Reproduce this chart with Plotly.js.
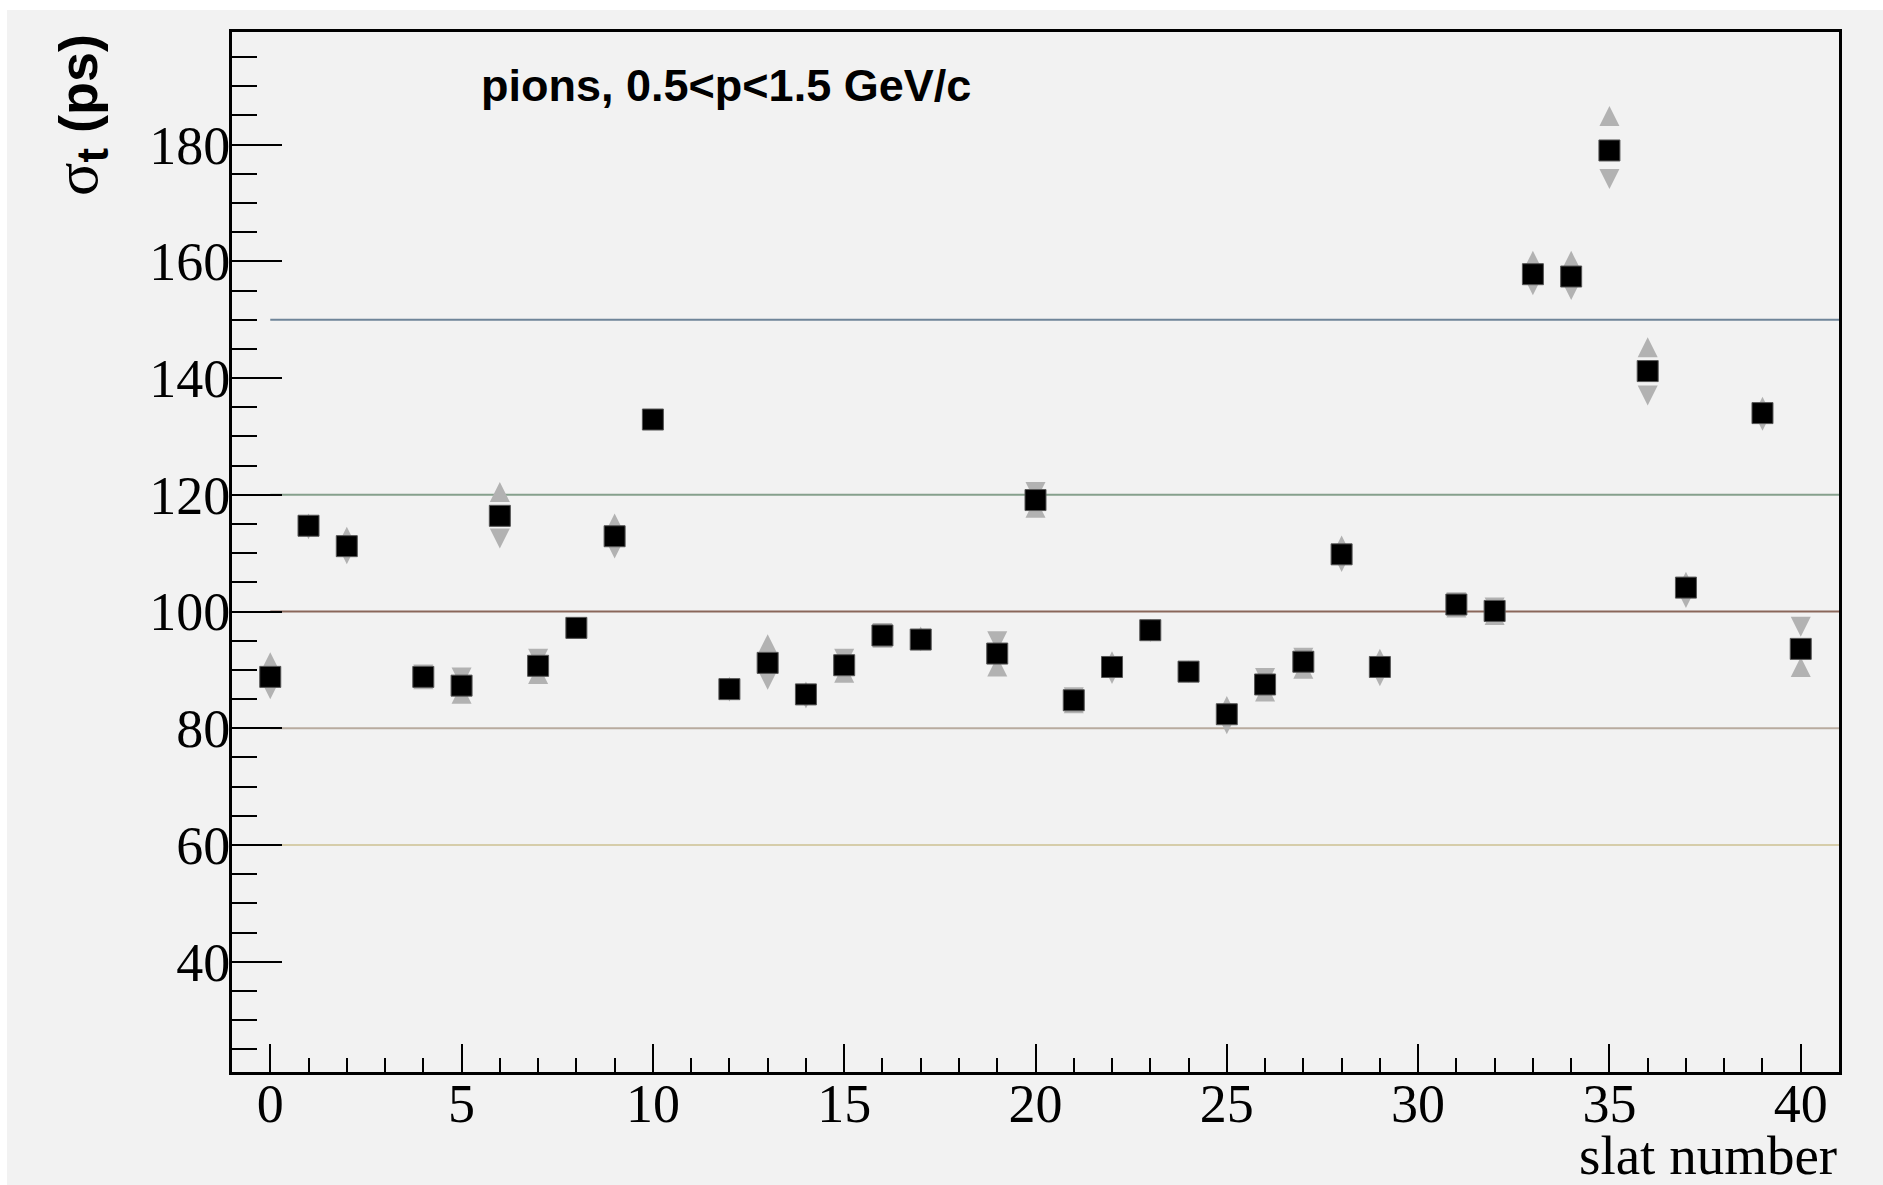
<!DOCTYPE html>
<html>
<head>
<meta charset="utf-8">
<script src="https://cdn.plot.ly/plotly-3.0.1.min.js"></script>
<style>
  html, body { margin: 0; padding: 0; background: #ffffff; width: 1883px; height: 1185px; overflow: hidden; }
  #chart { position: absolute; left: 7px; top: 10px; width: 1876px; height: 1175px; }
</style>
</head>
<body>
<div id="chart"></div>
<script>
// Slats with a measurement (3, 11, 18, 30 and 38 have none)
const slats = [0, 1, 2, 4, 5, 6, 7, 8, 9, 10, 12, 13, 14, 15, 16, 17, 19, 20, 21, 22,
               23, 24, 25, 26, 27, 28, 29, 31, 32, 33, 34, 35, 36, 37, 39, 40];

// Combined time resolution per slat (ps), black squares
const sigmaMean = [88.8, 114.7, 111.2, 88.8, 87.3, 116.4, 90.7, 97.2, 112.9, 132.9,
                   86.7, 91.2, 85.8, 90.8, 95.9, 95.2, 92.8, 119.1, 84.8, 90.5,
                   96.8, 89.7, 82.4, 87.5, 91.4, 109.8, 90.5, 101.2, 100.1, 157.8,
                   157.4, 179.0, 141.2, 104.1, 134.0, 93.6];

// First per-slat estimate (ps), grey up triangles
const sigmaUp = [91.3, 115.1, 112.8, 88.4, 85.9, 120.5, 89.3, 97.0, 115.1, 132.8,
                 87.1, 94.4, 86.3, 89.5, 95.5, 95.7, 90.6, 117.8, 84.3, 91.5,
                 97.0, 89.9, 83.8, 86.3, 90.2, 111.3, 91.9, 100.7, 99.4, 160.1,
                 160.1, 184.9, 145.3, 105.1, 135.1, 90.5];

// Second per-slat estimate (ps), grey down triangles
const sigmaDown = [86.7, 114.1, 109.8, 89.2, 88.7, 112.5, 91.9, 97.3, 110.8, 133.0,
                   86.3, 88.3, 85.1, 91.9, 96.3, 94.9, 94.9, 120.5, 85.3, 89.3,
                   96.5, 89.5, 80.7, 88.6, 92.1, 108.5, 88.9, 101.6, 100.7, 155.9,
                   155.1, 174.1, 137.0, 102.3, 132.7, 97.4];

// Reference resolution levels (ps) and their line colours
const refLevels = [60, 80, 100, 120, 150];
const refColors = ['#d6cdaa', '#b8ab9f', '#8a675a', '#86a08d', '#6f8599'];
const refStart = 0;
const refEnd = 41;

const triColor = '#b2b2b2';
const triSize = 20;

const traces = [];

refLevels.forEach(function (lvl, i) {
  traces.push({
    type: 'scatter', mode: 'lines',
    x: [refStart, refEnd], y: [lvl, lvl],
    line: { color: refColors[i], width: 2 },
    hoverinfo: 'skip', showlegend: false, cliponaxis: true
  });
});

// Up-pointing triangle: a down arrow flipped and pushed back onto its centre
traces.push({
  type: 'scatter', mode: 'markers', x: slats, y: sigmaUp,
  marker: { symbol: 'arrow-down', angle: 180, standoff: triSize / 2,
            size: triSize, color: triColor, line: { width: 0 } },
  showlegend: false, cliponaxis: false
});

// Down-pointing triangle centred on its value
traces.push({
  type: 'scatter', mode: 'markers', x: slats, y: sigmaDown,
  marker: { symbol: 'arrow-down', angle: 0, standoff: triSize / 2,
            size: triSize, color: triColor, line: { width: 0 } },
  showlegend: false, cliponaxis: false
});

traces.push({
  type: 'scatter', mode: 'markers', x: slats, y: sigmaMean,
  marker: { symbol: 'square', size: 21, color: '#000000',
            line: { width: 1, color: '#555555' } },
  showlegend: false, cliponaxis: false
});

const tickFont = { family: 'Liberation Serif, Times New Roman, serif', size: 54, color: '#000000' };

const layout = {
  width: 1876, height: 1175,
  paper_bgcolor: '#f2f2f2', plot_bgcolor: '#f2f2f2',
  margin: { l: 225, r: 44, t: 22, b: 113, pad: 0 },
  showlegend: false,
  xaxis: {
    range: [-1, 41], tick0: 0, dtick: 5,
    showline: true, linecolor: '#000000', linewidth: 3, mirror: true,
    ticks: 'inside', ticklen: 28, tickwidth: 2, tickcolor: '#000000',
    ticklabelstandoff: -18,
    showgrid: false, zeroline: false, tickfont: tickFont,
    minor: { dtick: 1, ticks: 'inside', ticklen: 14, tickwidth: 2, tickcolor: '#000000', showgrid: false }
  },
  yaxis: {
    range: [21.1, 199.3], tick0: 0, dtick: 20,
    showline: true, linecolor: '#000000', linewidth: 3, mirror: true,
    ticks: 'inside', ticklen: 50, tickwidth: 2, tickcolor: '#000000',
    ticklabelstandoff: -12,
    showgrid: false, zeroline: false, tickfont: tickFont,
    minor: { dtick: 5, ticks: 'inside', ticklen: 25, tickwidth: 2, tickcolor: '#000000', showgrid: false }
  },
  annotations: [
    {
      text: '<span style="font-family:Liberation Serif;font-size:62px">σ</span>' +
            '<sub><b><span style="font-size:44px">t</span></b></sub><b> (ps)</b>',
      textangle: -90, xref: 'paper', yref: 'paper',
      x: -0.0952, y: 1, xanchor: 'center', yanchor: 'top', showarrow: false,
      font: { family: 'Liberation Sans, Arial, sans-serif', size: 54, color: '#000000' }
    },
    {
      text: '<b>pions, 0.5&lt;p&lt;1.5 GeV/c</b>',
      xref: 'paper', yref: 'paper', x: 0.1537, y: 0.975,
      xanchor: 'left', yanchor: 'top', showarrow: false,
      font: { family: 'Liberation Sans, Arial, sans-serif', size: 45, color: '#000000' }
    },
    {
      text: 'slat number',
      xref: 'paper', yref: 'paper', x: 1, y: -0.049,
      xanchor: 'right', yanchor: 'top', showarrow: false,
      font: { family: 'Liberation Serif, Times New Roman, serif', size: 55, color: '#000000' }
    }
  ]
};

Plotly.newPlot('chart', traces, layout, { displayModeBar: false, staticPlot: true });
</script>
</body>
</html>
